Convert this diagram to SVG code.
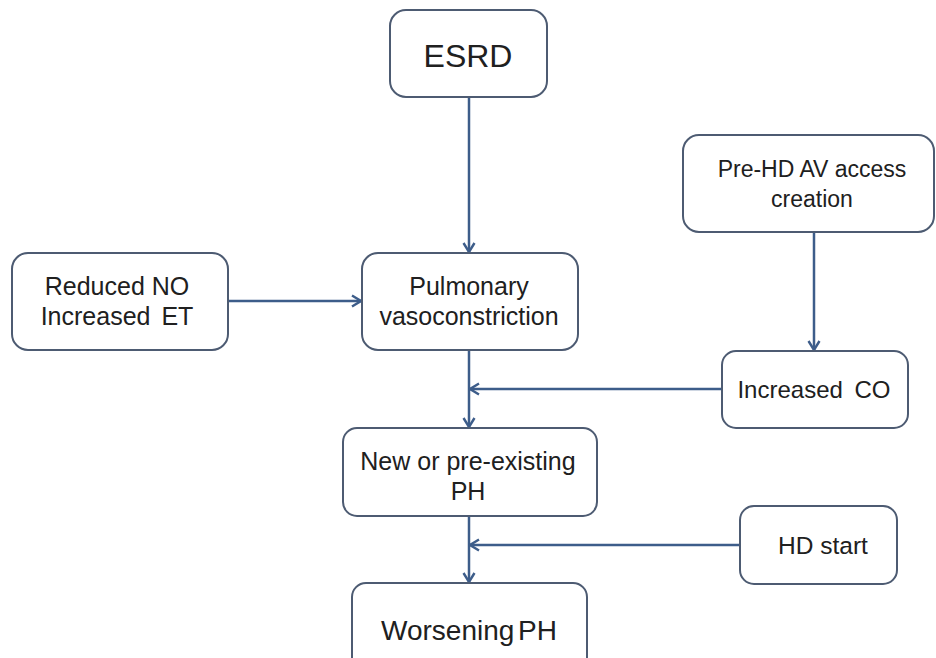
<svg xmlns="http://www.w3.org/2000/svg" width="936" height="658" viewBox="0 0 936 658">
<style>
.box{fill:#fff;stroke:#4d5b72;stroke-width:2}
.t{font-family:"Liberation Sans",Arial,sans-serif;font-size:25px;fill:#202020;text-anchor:middle}
.c{fill:none;stroke:#3d5d8a;stroke-width:2.5}
</style>
<defs>
<marker id="ah" markerWidth="14" markerHeight="14" viewBox="0 0 14 14" refX="12" refY="7" orient="auto" markerUnits="userSpaceOnUse">
<path d="M3,1.5 L12,7 L3,12.5" fill="none" stroke="#3d5d8a" stroke-width="2.4"/>
</marker>
</defs>
<rect width="936" height="658" fill="#fff"/>
<g id="connectors">
<path class="c" d="M469,97 V252" marker-end="url(#ah)"/>
<path class="c" d="M228,301 H361" marker-end="url(#ah)"/>
<path class="c" d="M814,232 V350" marker-end="url(#ah)"/>
<path class="c" d="M469,350 V427" marker-end="url(#ah)"/>
<path class="c" d="M722,389 H470" marker-end="url(#ah)"/>
<path class="c" d="M469,516 V582" marker-end="url(#ah)"/>
<path class="c" d="M740,545 H470" marker-end="url(#ah)"/>
</g>
<g id="esrd"><rect class="box" x="390" y="10" width="157" height="87" rx="16"/><text class="t" x="468" y="67" style="font-size:32px">ESRD</text></g>
<g id="prehd"><rect class="box" x="683" y="135" width="251" height="97" rx="16"/><text class="t" x="812" y="177" style="font-size:23px">Pre-HD AV access</text><text class="t" x="812" y="207" style="font-size:23px">creation</text></g>
<g id="reduced"><rect class="box" x="12" y="253" width="216" height="97" rx="16"/><text class="t" x="117" y="295">Reduced NO</text><text class="t" x="117" y="325" style="word-spacing:4px">Increased ET</text></g>
<g id="pulmonary"><rect class="box" x="362" y="253" width="216" height="97" rx="16"/><text class="t" x="469" y="295">Pulmonary</text><text class="t" x="469" y="325">vasoconstriction</text></g>
<g id="co"><rect class="box" x="722" y="351" width="186" height="77" rx="14"/><text class="t" x="814" y="398" style="font-size:24px;word-spacing:5px">Increased CO</text></g>
<g id="newph"><rect class="box" x="343" y="428" width="254" height="88" rx="14"/><text class="t" x="468" y="470">New or pre-existing</text><text class="t" x="468" y="500">PH</text></g>
<g id="hd"><rect class="box" x="740" y="506" width="157" height="78" rx="14"/><text class="t" x="823" y="554" style="font-size:24.5px">HD start</text></g>
<g id="worse"><rect class="box" x="352" y="583" width="235" height="90" rx="14"/><text class="t" x="469" y="640" style="font-size:28px;word-spacing:-4px">Worsening PH</text></g>
</svg>
